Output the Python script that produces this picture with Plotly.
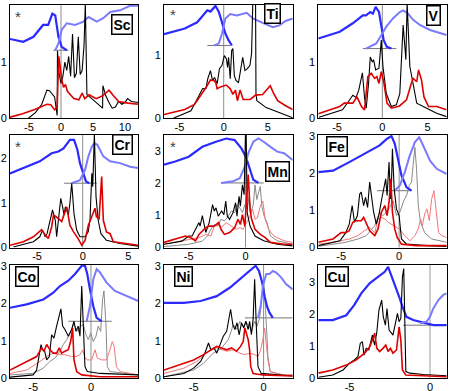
import plotly.graph_objects as go

# ---------------- Sc ----------------
SC_E_BK = [-5.1, -4.0, -3.0, -2.5, -2.2, -1.8, -1.5, -1.2, -1.0, -0.6, -0.55, -0.3, 0.0, 0.3, 0.6, 0.9, 1.2, 1.5, 1.8, 2.1, 2.4, 2.7, 3.0, 3.3, 3.6, 3.8, 4.05, 4.5, 5.5, 6.5, 6.55, 7.0, 7.5, 8.0, 8.5, 9.0, 9.5, 10.0, 10.4, 11.0, 12.08]
SC_BK = [0.0, 0.1, 0.25, 0.4, 0.5, 0.49, 0.45, 0.41, 0.38, 0.05, 1.2, 0.8, 0.62, 0.75, 1.0, 0.85, 1.1, 0.75, 1.5, 0.72, 0.8, 1.45, 0.78, 0.85, 1.3, 2.05, 0.42, 0.38, 0.28, 0.18, 0.58, 0.4, 0.28, 0.18, 0.2, 0.3, 0.25, 0.28, 0.35, 0.3, 0.28]
SC_E_RD = [-7.97, -6.0, -4.0, -2.8, -2.2, -1.6, -1.0, -0.6, -0.35, 0.1, 0.4, 0.7, 1.0, 2.0, 2.8, 3.3, 3.7, 4.4, 5.5, 6.5, 7.5, 8.2, 9.0, 10.5, 12.08]
SC_RD = [0.02, 0.08, 0.16, 0.22, 0.25, 0.24, 0.15, 0.2, 1.1, 0.7, 0.55, 0.6, 0.48, 0.35, 0.33, 0.45, 0.35, 0.42, 0.35, 0.4, 0.5, 0.4, 0.3, 0.27, 0.25]
SC_E_OC = [-7.97, -5.9, -4.3, -2.8, -2.0, -1.35, -0.9, -0.4, 0.1, 0.9]
SC_OC = [1.41, 1.36, 1.45, 1.66, 1.66, 1.86, 1.83, 1.45, 1.27, 1.21]
SC_E_UN = [-0.9, -0.4, 0.1, 0.9, 2.2, 3.5, 4.3, 5.6, 6.6, 7.7, 9.2, 10.8, 12.08]
SC_UN = [1.21, 1.33, 1.57, 1.69, 1.66, 1.72, 1.8, 1.72, 1.78, 1.89, 1.92, 2.0, 2.0]

# ---------------- Ti ----------------
TI_E_BK = [-5.7, -3.7, -2.8, -2.4, -2.0, -1.8, -1.5, -1.26, -1.04, -0.74, -0.48, -0.2, 0.07, 0.3, 0.44, 0.55, 0.74, 0.9, 1.04, 1.2, 1.4, 1.67, 1.9, 2.15, 2.4, 2.67, 2.96, 3.15, 3.3, 3.6, 3.65, 3.75, 4.8, 6.3, 7.8]
TI_BK = [0.0, 0.12, 0.36, 0.47, 0.48, 0.63, 0.76, 0.6, 0.65, 0.55, 0.79, 0.84, 1.0, 0.95, 0.81, 0.97, 0.63, 1.08, 1.11, 0.68, 0.6, 0.57, 0.76, 0.97, 0.76, 0.79, 0.84, 1.03, 1.9, 1.9, 0.38, 0.28, 0.17, 0.09, 0.01]
TI_E_RD = [-6.75, -4.4, -3.3, -2.6, -2.0, -1.5, -1.1, -0.9, -0.74, -0.37, 0.3, 0.74, 1.04, 1.33, 1.55, 1.85, 2.2, 3.0, 3.6, 4.4, 5.0, 5.26, 5.6, 6.1, 7.0, 7.8]
TI_RD = [0.06, 0.14, 0.22, 0.36, 0.49, 0.61, 0.6, 0.57, 0.47, 0.5, 0.53, 0.47, 0.38, 0.45, 0.28, 0.45, 0.3, 0.3, 0.37, 0.38, 0.47, 0.52, 0.41, 0.28, 0.2, 0.14]
TI_E_OC = [-6.75, -4.4, -3.0, -1.85, -1.5, -0.93, -0.56, -0.19, 0.19, 0.56, 0.93]
TI_OC = [1.34, 1.43, 1.53, 1.72, 1.7, 1.79, 1.7, 1.51, 1.35, 1.24, 1.16]
TI_E_UN = [-1.1, -0.56, -0.19, 0.19, 0.74, 1.48, 2.6, 3.3, 4.4, 5.55, 6.3, 7.0, 7.8]
TI_UN = [1.16, 1.19, 1.35, 1.59, 1.66, 1.64, 1.68, 1.59, 1.52, 1.45, 1.48, 1.55, 1.59]

# ---------------- V ----------------
V_E_BK = [-7.0, -4.4, -3.6, -3.26, -2.9, -2.6, -2.2, -1.96, -1.78, -1.52, -1.33, -1.1, -0.96, -0.74, -0.37, -0.11, 0.07, 0.44, 1.0, 1.55, 1.93, 2.1, 2.3, 2.6, 2.74, 3.04, 3.4, 3.8, 4.9, 6.0, 7.1]
V_BK = [0.02, 0.15, 0.33, 0.41, 0.37, 0.5, 0.81, 0.36, 0.18, 0.62, 1.09, 1.0, 1.04, 0.86, 0.89, 1.39, 0.92, 0.44, 0.21, 0.24, 0.44, 0.92, 1.66, 1.04, 2.05, 0.92, 0.62, 0.27, 0.18, 0.09, 0.03]
V_E_RD = [-7.07, -4.7, -4.2, -3.26, -2.8, -2.3, -1.96, -1.6, -1.22, -0.85, -0.6, -0.37, -0.11, 0.15, 0.52, 1.0, 1.9, 2.67, 3.2, 3.4, 3.8, 4.0, 4.33, 4.6, 5.1, 6.0, 7.1]
V_RD = [0.08, 0.21, 0.27, 0.27, 0.38, 0.21, 0.15, 0.74, 0.8, 0.71, 0.74, 0.62, 0.83, 0.65, 0.27, 0.18, 0.22, 0.33, 0.62, 0.71, 0.65, 0.86, 0.68, 0.38, 0.21, 0.21, 0.15]
V_E_OC = [-7.07, -4.7, -3.26, -2.15, -1.8, -1.33, -1.04, -0.74, -0.37, -0.1, 0.15, 0.5, 1.0]
V_OC = [1.42, 1.54, 1.69, 1.83, 1.83, 1.89, 1.86, 1.98, 1.89, 1.6, 1.39, 1.27, 1.24]
V_E_UN = [-1.8, -0.67, -0.1, 0.44, 1.2, 1.93, 2.3, 2.85, 3.4, 4.15, 5.26, 6.4, 7.1]
V_UN = [1.24, 1.33, 1.48, 1.63, 1.78, 1.89, 1.92, 1.86, 1.75, 1.66, 1.57, 1.51, 1.48]

# ---------------- Cr ----------------
CR_E_BK = [-7.6, -5.4, -4.7, -4.4, -4.1, -3.9, -3.6, -3.3, -3.0, -2.85, -2.66, -2.4, -2.2, -2.04, -1.9, -1.75, -1.57, -1.4, -1.2, -0.95, -0.66, -0.3, 0.26, 0.6, 0.8, 1.0, 1.1, 1.28, 1.46, 1.7, 2.0, 2.6, 4.1, 6.09]
CR_BK = [0.01, 0.13, 0.24, 0.39, 0.24, 0.31, 0.58, 0.84, 0.61, 0.24, 0.61, 1.1, 0.91, 0.73, 0.91, 0.84, 0.73, 0.99, 1.44, 0.76, 0.39, 0.24, 0.24, 0.35, 0.61, 1.66, 1.36, 2.55, 1.14, 0.61, 0.31, 0.16, 0.09, 0.03]
CR_E_RD = [-7.96, -6.5, -5.4, -4.7, -4.5, -4.1, -3.76, -3.4, -3.2, -2.66, -2.3, -1.75, -1.4, -1.0, -0.5, -0.1, 0.26, 0.62, 1.35, 1.5, 1.8, 2.08, 2.26, 2.6, 3.0, 3.36, 4.8, 6.09]
CR_RD = [0.05, 0.13, 0.24, 0.35, 0.4, 0.28, 0.2, 0.46, 0.73, 0.65, 0.58, 0.91, 0.5, 0.35, 0.2, 0.05, 0.16, 0.5, 0.88, 0.69, 0.65, 1.59, 0.61, 0.35, 0.31, 0.13, 0.09, 0.05]
CR_E_OC = [-7.96, -6.1, -4.7, -3.4, -2.66, -2.1, -1.4, -0.95, -0.58, -0.3, 0.07, 0.36, 0.73]
CR_OC = [1.66, 1.81, 1.93, 2.11, 2.15, 2.22, 2.41, 2.41, 2.19, 1.89, 1.66, 1.48, 1.44]
CR_E_UN = [-1.2, -0.3, 0.26, 0.62, 1.0, 1.28, 1.6, 2.26, 3.0, 4.1, 5.2, 6.09]
CR_UN = [1.44, 1.51, 1.74, 2.04, 2.26, 2.34, 2.3, 2.04, 1.93, 1.89, 1.81, 1.78]

# ---------------- Mn ----------------
MN_E_BK = [-7.18, -5.6, -5.0, -4.7, -4.4, -4.1, -4.0, -3.8, -3.5, -3.2, -2.9, -2.75, -2.6, -2.4, -2.1, -1.9, -1.74, -1.6, -1.4, -1.1, -0.87, -0.75, -0.57, -0.45, -0.27, -0.12, 0.0, 0.06, 0.15, 0.4, 0.84, 1.6, 2.8, 4.16]
MN_BK = [0.1, 0.2, 0.36, 0.36, 0.57, 0.78, 0.67, 1.0, 0.47, 0.78, 1.34, 1.14, 1.24, 0.98, 1.14, 1.03, 1.45, 0.98, 0.88, 1.09, 1.4, 0.98, 1.6, 1.29, 1.96, 1.65, 3.6, 3.6, 1.09, 0.67, 0.36, 0.21, 0.1, 0.05]
MN_E_GY = [-7.18, -5.0, -3.8, -3.35, -3.05, -2.75, -2.45, -2.15, -1.85, -1.55, -1.25, -0.95, -0.75, -0.5, -0.27, -0.06, 0.15, 0.33, 0.48, 0.69, 0.84, 1.0, 1.14, 1.3, 1.44, 1.65, 1.9, 2.2, 2.8, 4.16]
MN_GY = [0.03, 0.1, 0.2, 0.36, 0.57, 0.72, 0.67, 0.88, 0.83, 0.96, 1.14, 1.09, 1.34, 1.24, 1.09, 1.34, 1.19, 1.6, 1.09, 1.34, 1.96, 1.5, 1.7, 1.91, 1.29, 0.98, 0.78, 0.36, 0.21, 0.1]
MN_E_RD = [-7.18, -6.2, -5.3, -4.85, -4.4, -4.1, -3.8, -3.5, -3.2, -2.75, -2.37, -2.15, -1.86, -1.4, -0.96, -0.66, -0.45, -0.27, -0.06, 0.09, 0.24, 0.4, 0.54, 0.84, 1.3, 1.74, 2.2, 3.4, 4.16]
MN_RD = [0.16, 0.26, 0.36, 0.31, 0.21, 0.41, 0.52, 0.62, 0.67, 0.67, 0.78, 0.57, 0.41, 0.47, 0.62, 0.88, 0.72, 1.03, 0.67, 1.55, 2.28, 1.19, 0.88, 0.57, 0.41, 0.31, 0.16, 0.1, 0.1]
MN_E_PK = [-7.18, -5.6, -4.7, -4.1, -3.5, -3.05, -2.75, -2.45, -2.15, -1.7, -1.25, -0.8, -0.5, -0.2, 0.09, 0.4, 0.63, 0.84, 1.05, 1.3, 1.53, 1.74, 2.04, 2.5, 3.4, 4.16]
MN_PK = [0.1, 0.21, 0.26, 0.31, 0.41, 0.36, 0.67, 0.72, 0.62, 0.78, 0.67, 0.57, 0.62, 0.57, 0.78, 0.98, 1.19, 0.88, 0.93, 1.29, 1.45, 0.88, 0.57, 0.36, 0.21, 0.16]
MN_E_OC = [-7.18, -6.2, -5.0, -3.8, -2.6, -1.7, -0.96, -0.36, 0.03, 0.4, 0.69, 1.14]
MN_OC = [2.59, 2.69, 2.84, 3.15, 3.31, 3.41, 3.36, 3.1, 2.84, 2.43, 2.12, 2.02]
MN_E_UN = [-2.15, -1.1, -0.5, -0.06, 0.24, 0.69, 1.14, 1.6, 2.2, 2.8, 3.4, 4.16]
MN_UN = [2.02, 2.07, 2.17, 2.53, 2.95, 3.31, 3.41, 3.31, 3.15, 3.0, 2.95, 2.74]

# ---------------- Fe ----------------
FE_E_BK = [-6.97, -5.1, -4.6, -4.3, -4.05, -3.85, -3.6, -3.4, -3.27, -3.06, -2.9, -2.72, -2.54, -2.4, -2.2, -1.97, -1.73, -1.53, -1.33, -1.16, -1.04, -0.87, -0.75, -0.66, -0.58, -0.43, -0.23, 0.0, 0.2, 0.64, 2.4, 4.1]
FE_BK = [0.05, 0.18, 0.4, 0.63, 1.13, 0.68, 0.86, 1.44, 1.49, 1.13, 1.35, 1.08, 1.76, 1.4, 0.95, 0.63, 0.9, 1.26, 1.58, 1.85, 1.4, 2.3, 1.31, 1.76, 2.66, 1.58, 1.04, 0.86, 0.23, 0.09, 0.05, 0.03]
FE_E_GY = [-6.97, -4.6, -3.55, -2.83, -2.1, -1.68, -1.39, -1.1, -0.8, -0.52, -0.23, 0.06, 0.4, 0.64, 0.87, 1.07, 1.2, 1.36, 1.5, 1.65, 1.85, 2.2, 2.8, 4.1]
FE_GY = [0.03, 0.14, 0.23, 0.32, 0.59, 0.95, 0.86, 0.95, 1.08, 1.26, 0.86, 0.95, 1.26, 1.4, 1.67, 1.76, 2.2, 2.7, 2.12, 1.13, 0.68, 0.4, 0.23, 0.14]
FE_E_RD = [-6.97, -5.7, -5.0, -4.6, -4.3, -4.0, -3.7, -3.27, -3.06, -2.83, -2.54, -2.1, -1.82, -1.53, -1.24, -1.04, -0.87, -0.72, -0.58, -0.38, -0.17, 0.2, 1.5, 4.1]
FE_RD = [0.14, 0.23, 0.4, 0.4, 0.45, 0.68, 0.72, 0.72, 0.81, 0.63, 0.45, 0.32, 0.5, 0.95, 1.13, 0.86, 1.22, 1.85, 0.95, 0.5, 0.27, 0.09, 0.05, 0.05]
FE_E_PK = [-6.97, -5.7, -4.3, -3.55, -3.0, -2.54, -2.1, -1.82, -1.53, -1.24, -0.95, -0.52, 0.0, 0.49, 0.92, 1.36, 1.65, 1.85, 2.0, 2.2, 2.4, 2.6, 2.8, 3.0, 3.2, 3.4, 3.67, 4.1]
FE_PK = [0.09, 0.14, 0.23, 0.32, 0.45, 0.54, 0.4, 0.77, 0.81, 0.77, 0.68, 0.59, 0.5, 0.32, 0.18, 0.32, 0.5, 0.77, 0.59, 0.9, 1.04, 0.72, 1.3, 1.53, 0.86, 0.4, 0.32, 0.27]
FE_E_OC = [-6.97, -5.7, -4.3, -3.27, -2.4, -1.68, -1.04, -0.66, -0.38, -0.09, 0.2, 0.64, 1.07]
FE_OC = [2.03, 2.07, 2.3, 2.48, 2.61, 2.75, 2.93, 3.0, 2.8, 2.34, 1.94, 1.62, 1.53]
FE_E_UN = [-0.38, 0.06, 0.49, 0.92, 1.36, 1.73, 2.14, 2.66, 3.24, 4.1]
FE_UN = [1.53, 1.67, 2.03, 2.48, 2.84, 2.97, 2.7, 2.34, 2.12, 1.98]

# ---------------- Co ----------------
CO_E_BK = [-7.0, -5.0, -4.7, -4.47, -4.32, -4.18, -4.0, -3.83, -3.6, -3.4, -3.2, -2.97, -2.74, -2.6, -2.45, -2.25, -1.96, -1.67, -1.47, -1.3, -1.1, -0.95, -0.8, -0.66, -0.52, -0.32, 0.78, 4.09]
CO_BK = [0.03, 0.09, 0.22, 0.58, 0.9, 0.76, 0.72, 0.49, 0.58, 1.16, 1.07, 1.39, 1.66, 1.85, 1.39, 1.3, 1.12, 1.3, 1.52, 1.25, 1.39, 1.12, 2.46, 1.12, 0.31, 0.18, 0.13, 0.09]
CO_E_GY = [-7.0, -5.0, -4.12, -3.55, -3.1, -2.68, -2.4, -2.1, -1.76, -1.53, -1.3, -1.1, -0.9, -0.66, -0.43, -0.23, -0.03, 0.2, 0.43, 0.63, 0.84, 1.0, 1.12, 1.3, 1.41, 1.64, 4.09]
CO_GY = [0.09, 0.13, 0.27, 0.45, 0.54, 0.72, 0.9, 1.03, 1.25, 1.43, 1.34, 1.25, 1.39, 1.43, 1.16, 1.03, 1.21, 0.98, 1.12, 1.39, 1.25, 2.1, 2.33, 1.39, 0.31, 0.18, 0.09]
CO_E_RD = [-7.0, -5.56, -4.7, -4.27, -4.06, -3.83, -3.55, -3.26, -2.97, -2.74, -2.54, -2.25, -1.96, -1.76, -1.59, -1.47, -1.24, -0.8, 0.78, 4.09]
CO_RD = [0.22, 0.45, 0.58, 0.81, 0.72, 0.9, 0.76, 0.67, 0.67, 0.81, 0.67, 0.72, 0.76, 0.98, 1.34, 0.49, 0.18, 0.09, 0.04, 0.04]
CO_E_PK = [-7.0, -5.56, -4.4, -3.83, -3.26, -2.82, -2.25, -1.67, -1.24, -0.95, -0.72, -0.52, -0.32, 0.06, 0.35, 0.55, 0.92, 1.35, 1.64, 1.84, 2.0, 2.2, 2.5, 4.09]
CO_PK = [0.13, 0.22, 0.45, 0.58, 0.67, 0.63, 0.63, 0.58, 0.58, 0.63, 0.76, 0.54, 0.49, 0.49, 0.76, 0.54, 0.49, 0.49, 0.76, 0.98, 0.85, 0.31, 0.18, 0.09]
CO_E_OC = [-7.0, -5.56, -4.12, -3.26, -2.68, -1.96, -1.38, -0.8, -0.52, -0.32, -0.09, 0.2, 0.49, 0.92]
CO_OC = [1.88, 1.97, 2.1, 2.28, 2.46, 2.6, 2.78, 3.0, 3.0, 2.78, 2.37, 1.92, 1.61, 1.52]
CO_E_UN = [-0.37, -0.09, 0.2, 0.49, 0.78, 1.35, 2.07, 3.08, 4.09]
CO_UN = [1.52, 1.92, 2.64, 2.91, 2.82, 2.55, 2.33, 2.19, 2.06]

# ---------------- Ni ----------------
NI_E_BK = [-7.12, -5.7, -5.0, -4.5, -4.2, -3.94, -3.77, -3.54, -3.35, -3.1, -2.88, -2.64, -2.45, -2.36, -2.2, -2.05, -1.9, -1.75, -1.58, -1.42, -1.27, -1.1, -1.0, -0.87, -0.75, -0.64, -0.52, -0.4, -0.17, 0.9, 2.08]
NI_BK = [0.04, 0.13, 0.27, 0.45, 0.67, 0.94, 0.76, 0.81, 0.67, 0.9, 1.12, 1.25, 1.66, 1.84, 1.43, 1.3, 1.48, 1.16, 1.48, 1.34, 1.52, 1.3, 1.52, 1.16, 1.57, 2.64, 1.39, 0.31, 0.13, 0.09, 0.06]
NI_E_GY = [-7.12, -5.0, -4.3, -3.6, -3.0, -2.52, -2.17, -1.89, -1.7, -1.46, -1.23, -1.04, -0.87, -0.64, -0.47, -0.28, -0.14, 0.0, 0.14, 0.31, 0.47, 1.37, 2.08]
NI_GY = [0.04, 0.22, 0.4, 0.67, 0.81, 1.03, 1.43, 1.3, 1.52, 1.39, 1.48, 1.39, 1.25, 1.52, 1.39, 1.61, 2.1, 2.64, 1.84, 0.58, 0.18, 0.09, 0.09]
NI_E_RD = [-7.12, -5.7, -5.0, -4.3, -3.7, -3.35, -3.0, -2.64, -2.29, -1.93, -1.65, -1.46, -1.34, -1.23, -1.1, -1.0, -0.92, -0.75, -0.05, 2.08]
NI_RD = [0.22, 0.4, 0.49, 0.63, 0.76, 0.85, 0.81, 0.76, 0.81, 0.72, 0.85, 0.98, 1.34, 1.16, 1.03, 0.76, 0.31, 0.13, 0.09, 0.06]
NI_E_PK = [-7.12, -5.7, -4.76, -3.94, -3.35, -2.64, -2.17, -1.7, -1.34, -1.0, -0.64, -0.4, -0.21, -0.05, 0.07, 0.19, 0.31, 0.47, 1.37, 2.08]
NI_PK = [0.13, 0.27, 0.45, 0.72, 0.81, 0.72, 0.76, 0.67, 0.63, 0.67, 0.63, 0.58, 0.76, 1.03, 1.34, 0.94, 0.49, 0.18, 0.09, 0.09]
NI_E_OC = [-7.12, -5.7, -4.5, -3.35, -2.4, -1.7, -1.0, -0.57, -0.33, -0.1, 0.07, 0.24, 0.42, 0.66]
NI_OC = [2.01, 2.01, 2.06, 2.19, 2.42, 2.64, 2.86, 3.0, 2.86, 2.55, 2.19, 1.92, 1.75, 1.61]
NI_E_UN = [-0.4, -0.21, -0.05, 0.19, 0.42, 0.66, 0.9, 1.25, 1.6, 2.08]
NI_UN = [1.61, 1.92, 2.46, 2.78, 2.78, 2.86, 2.82, 2.69, 2.51, 2.37]

# ---------------- Cu ----------------
CU_E_BK = [-6.94, -6.04, -5.4, -5.0, -4.7, -4.48, -4.33, -4.2, -4.1, -3.96, -3.8, -3.69, -3.58, -3.44, -3.3, -3.17, -3.0, -2.9, -2.77, -2.67, -2.54, -2.3, -2.13, -2.02, -1.92, -1.81, -1.71, -1.63, -1.5, -1.25, -0.42, 1.04]
CU_BK = [0.03, 0.1, 0.26, 0.47, 0.57, 0.67, 1.09, 1.14, 0.72, 0.93, 0.88, 1.14, 1.34, 1.03, 1.45, 2.12, 2.43, 1.91, 1.65, 2.17, 1.5, 1.34, 1.71, 2.02, 1.76, 1.86, 3.15, 3.41, 0.21, 0.16, 0.12, 0.08]
CU_E_RD = [-6.94, -6.04, -5.2, -4.58, -4.06, -3.75, -3.54, -3.44, -3.3, -3.13, -2.92, -2.75, -2.6, -2.46, -2.3, -2.08, -1.92, -1.81, -1.71, -1.5, 1.04]
CU_RD = [0.16, 0.26, 0.41, 0.57, 0.78, 0.98, 1.24, 1.4, 0.93, 0.83, 0.93, 1.03, 0.83, 0.93, 0.78, 0.88, 1.6, 1.19, 0.26, 0.1, 0.05]
CU_E_OC = [-6.94, -6.04, -5.2, -4.7, -4.27, -3.75, -3.23, -2.81, -2.6, -2.4, -2.08, -1.88, -1.67, -1.46, -1.04, -0.63, -0.21, 0.21, 1.04]
CU_OC = [1.81, 1.81, 1.96, 2.28, 2.64, 2.95, 3.15, 3.31, 3.46, 3.2, 2.79, 2.48, 2.17, 1.91, 1.81, 1.76, 1.71, 1.65, 1.65]
CU_E_UN = [-0.63, -0.21, 0.0, 0.21, 0.52, 0.83, 1.04]
CU_UN = [1.71, 1.76, 1.91, 2.17, 2.43, 2.59, 2.64]

# ---------------- panel settings ----------------
NAMES = ["Sc", "Ti", "V", "Cr", "Mn", "Fe", "Co", "Ni", "Cu"]
XRANGES = [[-7.97, 12.08], [-6.75, 7.8], [-7.07, 7.11], [-7.96, 6.09], [-7.18, 4.16],
           [-6.97, 4.1], [-7.0, 4.09], [-7.12, 2.08], [-6.94, 1.04]]
YRANGES = [[0, 2.02], [0, 1.81], [0, 2.02], [0, 2.52], [0, 3.52],
           [0, 3.03], [0, 3.02], [0, 3.02], [0, 3.52]]
XTICKS = [[-5, 0, 5, 10], [-5, 0, 5], [-5, 0, 5], [-5, 0, 5], [-5, 0],
          [-5, 0], [-5, 0], [-5, 0], [-5, 0]]
YTICKS = [[0, 1, 2], [0, 1], [0, 1, 2], [0, 1, 2], [0, 1, 2, 3],
          [0, 1, 2, 3], [0, 1, 2, 3], [0, 1, 2, 3], [0, 1, 2, 3]]
BASE_Y = [1.21, 1.16, 1.24, 1.44, 2.02, 1.53, 1.52, 1.61, 1.65]
BASE_X0 = [-1.2, -1.85, -2.15, -2.04, -2.15, -1.9, -1.96, -1.34, -1.67]
BASE_X1 = [1.15, 0.74, 1.55, 1.53, 1.6, 1.07, 1.79, 2.08, 1.04]
STAR = [True, True, False, True, True, False, False, False, False]

CURVES = [
    [(SC_E_OC, SC_OC, "oc"), (SC_E_UN, SC_UN, "un"), (SC_E_BK, SC_BK, "bk"), (SC_E_RD, SC_RD, "rd")],
    [(TI_E_OC, TI_OC, "oc"), (TI_E_UN, TI_UN, "un"), (TI_E_BK, TI_BK, "bk"), (TI_E_RD, TI_RD, "rd")],
    [(V_E_OC, V_OC, "oc"), (V_E_UN, V_UN, "un"), (V_E_BK, V_BK, "bk"), (V_E_RD, V_RD, "rd")],
    [(CR_E_OC, CR_OC, "oc"), (CR_E_UN, CR_UN, "un"), (CR_E_BK, CR_BK, "bk"), (CR_E_RD, CR_RD, "rd")],
    [(MN_E_GY, MN_GY, "gy"), (MN_E_PK, MN_PK, "pk"), (MN_E_OC, MN_OC, "oc"), (MN_E_UN, MN_UN, "un"), (MN_E_BK, MN_BK, "bk"), (MN_E_RD, MN_RD, "rd")],
    [(FE_E_GY, FE_GY, "gy"), (FE_E_PK, FE_PK, "pk"), (FE_E_OC, FE_OC, "oc"), (FE_E_UN, FE_UN, "un"), (FE_E_BK, FE_BK, "bk"), (FE_E_RD, FE_RD, "rd")],
    [(CO_E_GY, CO_GY, "gy"), (CO_E_PK, CO_PK, "pk"), (CO_E_OC, CO_OC, "oc"), (CO_E_UN, CO_UN, "un"), (CO_E_BK, CO_BK, "bk"), (CO_E_RD, CO_RD, "rd")],
    [(NI_E_GY, NI_GY, "gy"), (NI_E_PK, NI_PK, "pk"), (NI_E_OC, NI_OC, "oc"), (NI_E_UN, NI_UN, "un"), (NI_E_BK, NI_BK, "bk"), (NI_E_RD, NI_RD, "rd")],
    [(CU_E_OC, CU_OC, "oc"), (CU_E_UN, CU_UN, "un"), (CU_E_BK, CU_BK, "bk"), (CU_E_RD, CU_RD, "rd")],
]

STYLES = {
    "bk": dict(color="#000000", width=1.1),
    "rd": dict(color="#dd0000", width=1.6),
    "gy": dict(color="#8a8a8a", width=1.0),
    "pk": dict(color="#f07878", width=1.0),
    "oc": dict(color="#2b2bff", width=2.2),
    "un": dict(color="#7a7aff", width=2.0),
}

W, H = 449, 391
COL_PX = [(10, 138.3), (164, 292.7), (318.3, 446.7)]
ROW_PX = [(4.7, 118.3), (135, 247.5), (265, 378.3)]
LABEL_PX = [(122.5, 24.2), (272.5, 13.8), (433, 15.6), (122.5, 144.6), (277, 171),
            (336.5, 146.7), (27, 276.7), (183, 276.4), (337, 276.7)]
STAR_PX = [(18, 16), (173, 15), None, (18, 146), (173, 146), None, None, None, None]

FONT = "Liberation Sans, Arial, Helvetica, sans-serif"

fig = go.Figure()
layout = dict(width=W, height=H, margin=dict(l=0, r=0, t=0, b=0),
              paper_bgcolor="white", plot_bgcolor="white", showlegend=False,
              font=dict(family=FONT, size=11, color="black"))
shapes = []
annotations = []

for i in range(9):
    n = i + 1
    r, c = divmod(i, 3)
    xs = "x" if n == 1 else f"x{n}"
    ys = "y" if n == 1 else f"y{n}"
    x0, x1 = COL_PX[c]
    y0, y1 = ROW_PX[r]
    common = dict(showline=True, mirror=True, linecolor="black", linewidth=1,
                  showgrid=False, zeroline=False, ticks="", ticklen=0, automargin=False,
                  tickfont=dict(size=11, family=FONT, color="black"))
    layout[f"xaxis{'' if n == 1 else n}"] = dict(
        domain=[x0 / W, x1 / W], range=XRANGES[i], anchor=ys, ticklabelstandoff=-2,
        tickvals=XTICKS[i], ticktext=[str(v) for v in XTICKS[i]], **common)
    layout[f"yaxis{'' if n == 1 else n}"] = dict(
        domain=[1 - y1 / H, 1 - y0 / H], range=YRANGES[i], anchor=xs, ticklabelstandoff=0,
        tickvals=YTICKS[i], ticktext=[str(v) for v in YTICKS[i]], **common)

    # Fermi level line and spectral baseline
    zcol = "#cccccc" if NAMES[i] == "Cu" else "#8c8c8c"
    zw = 2 if NAMES[i] == "Cu" else 1
    shapes.append(dict(type="line", xref=xs, yref=f"{ys} domain", x0=0, x1=0, y0=0, y1=1,
                       line=dict(color=zcol, width=zw), layer="below"))
    shapes.append(dict(type="line", xref=xs, yref=ys, x0=BASE_X0[i], x1=BASE_X1[i],
                       y0=BASE_Y[i], y1=BASE_Y[i], line=dict(color="#777777", width=1), layer="below"))

    for ex, vy, st in CURVES[i]:
        fig.add_trace(go.Scatter(x=ex, y=vy, mode="lines", line=STYLES[st],
                                 xaxis=xs, yaxis=ys, hoverinfo="skip", cliponaxis=True))

    lx, ly = LABEL_PX[i]
    annotations.append(dict(x=lx / W, y=1 - ly / H, xref="paper", yref="paper",
                            text=f"<b>{NAMES[i]}</b>", showarrow=False,
                            font=dict(size=14, family=FONT, color="black"),
                            bordercolor="black", borderwidth=1.5, borderpad=1,
                            bgcolor="white", xanchor="center", yanchor="middle"))
    if STAR[i]:
        sx, sy = STAR_PX[i]
        annotations.append(dict(x=sx / W, y=1 - sy / H, xref="paper", yref="paper",
                                text="*", showarrow=False,
                                font=dict(size=15, family=FONT, color="#444444"),
                                xanchor="center", yanchor="middle"))

layout["shapes"] = shapes
layout["annotations"] = annotations
fig.update_layout(**layout)
fig.write_html("out.html", config={"displayModeBar": False},
               post_script="document.body.style.margin='0';document.body.style.padding='0';document.body.style.overflow='hidden';")
